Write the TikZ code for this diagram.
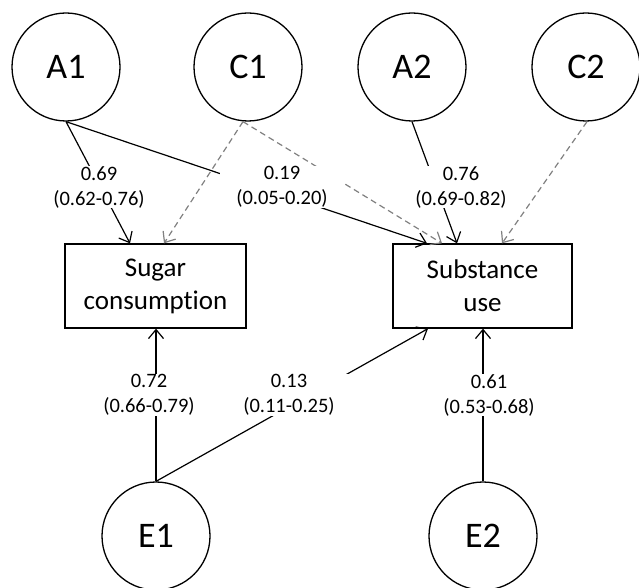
\documentclass[tikz,border=0pt]{standalone}
\usepackage{fontspec}
\setmainfont{Carlito}[Ligatures={NoCommon}]
\usetikzlibrary{arrows.meta,calc}
\begin{document}
\begin{tikzpicture}[x=1pt,y=-1pt,
  latent/.style={circle,draw,line width=1.3pt,minimum size=108pt,inner sep=0pt,font=\fontsize{36}{43}\selectfont},
  obs/.style={rectangle,draw,line width=1.3pt,minimum width=181pt,minimum height=84pt,inner sep=0pt,align=center,font=\fontsize{27}{33}\selectfont},
  est/.style={fill=white,inner sep=0pt,minimum width=124pt,align=center,font=\fontsize{20.5}{25}\selectfont},
  path/.style={line width=1.2pt,-{Straight Barb[length=9pt,width=15pt,line width=1.2pt]}},
  cpath/.style={line width=1.2pt,gray,dash pattern=on 6pt off 4pt,-{Straight Barb[length=9pt,width=15pt,line width=1.2pt]}}
]
\useasboundingbox (0,0) rectangle (639,588);
\node[latent] (A1) at (66,67) {A1};
\node[latent] (C1) at (248,67) {C1};
\node[latent] (A2) at (412,67) {A2};
\node[latent] (C2) at (586,67) {C2};
\node[latent] (E1) at (156,536) {E1};
\node[latent] (E2) at (483,536) {E2};
\node[obs] (S) at (155.5,286) {Sugar\\consumption};
\node[obs,minimum width=179pt] (U) at (482.5,286) {Substance\\use};

\draw[cpath] ([xshift=-5pt]C1.south) -- ([xshift=8.5pt]S.north);
\draw[cpath] ([xshift=-5pt]C1.south) -- ([xshift=-40.5pt]U.north);
\draw[cpath] ([xshift=1pt]C2.south) -- ([xshift=19.5pt]U.north);
\draw[path] (A1.south) -- ([xshift=-25.5pt]S.north);
\draw[path] (A1.south) -- ([xshift=-55.5pt]U.north);
\draw[path] (A2.south) -- ([xshift=-25.5pt]U.north);
\draw[path] (E1.north) -- (E1.north |- S.south);
\draw[path] (E1.north) -- ([xshift=-54.5pt]U.south);
\draw[path] (E2.north) -- (E2.north |- U.south);

\node[est] (l1) at (99,187) {0.69\\(0.62-0.76)};
\node[est] (l2) at (282,187) {0.19\\(0.05-0.20)};
\node[est] (l3) at (461,187) {0.76\\(0.69-0.82)};
\node[est] (l4) at (149,395) {0.72\\(0.66-0.79)};
\node[est] (l5) at (289,395) {0.13\\(0.11-0.25)};
\node[est] (l6) at (489,395) {0.61\\(0.53-0.68)};
\end{tikzpicture}
\end{document}
